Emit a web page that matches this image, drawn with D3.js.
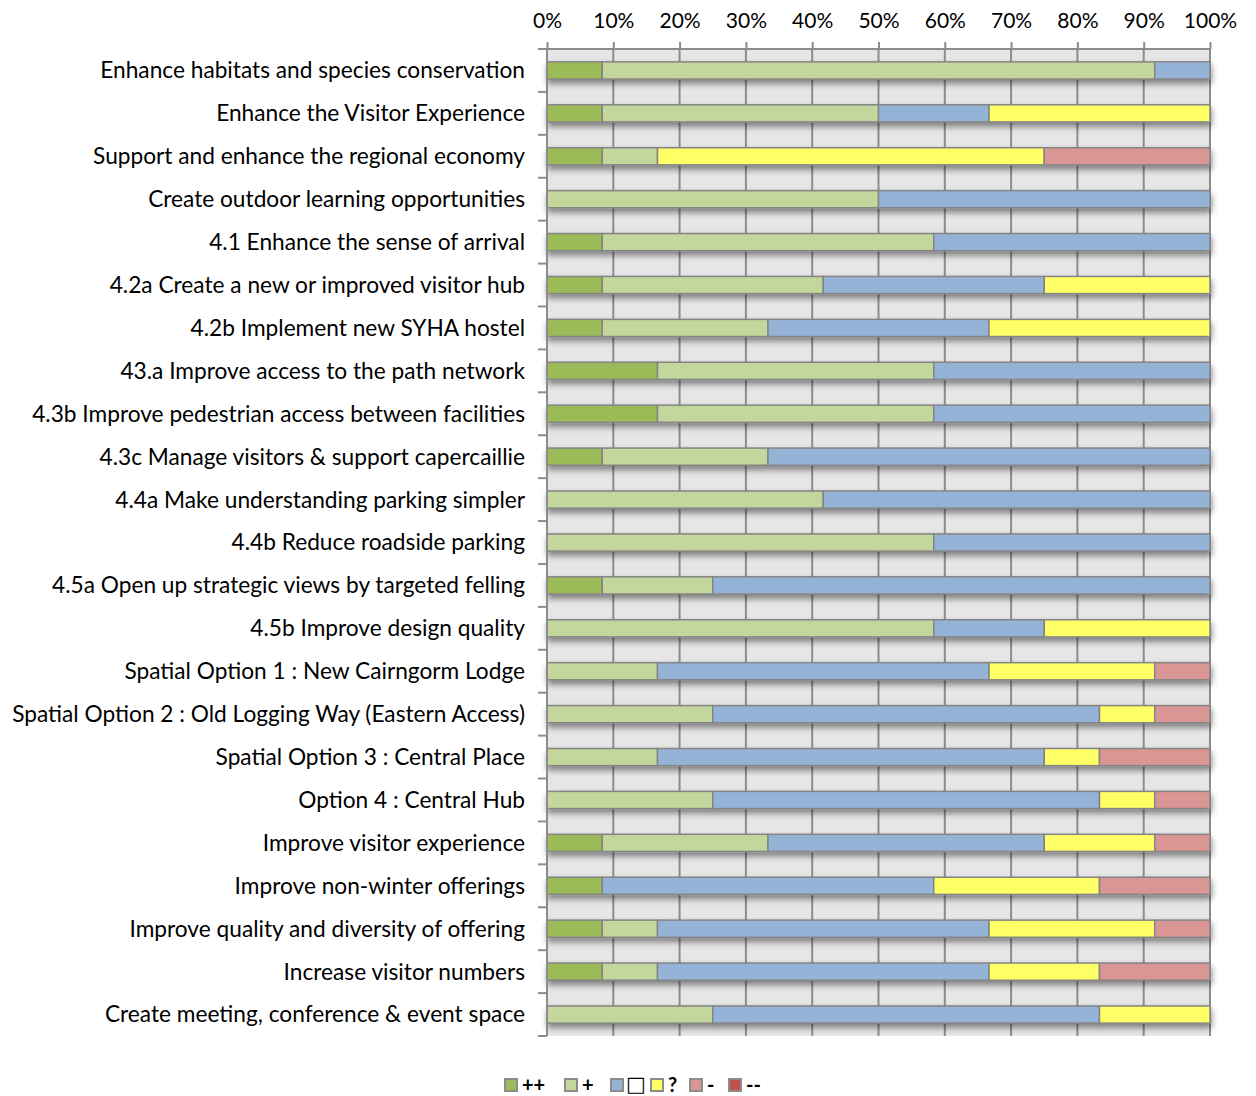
<!DOCTYPE html>
<html>
<head>
<meta charset="utf-8">
<script src="https://cdn.jsdelivr.net/npm/d3@7"></script>
<style>
  html, body { margin: 0; padding: 0; background: #fff; }
  svg { display: block; font-family: "Lato", "Open Sans", sans-serif; }
</style>
</head>
<body>
<svg id="chart" width="1256" height="1096"></svg>
<script>
// Objectives and options assessed (one row each, top to bottom)
const categories = [
  "Enhance habitats and species conservation",
  "Enhance the Visitor Experience",
  "Support and enhance the regional economy",
  "Create outdoor learning opportunities",
  "4.1 Enhance the sense of arrival",
  "4.2a Create a new or improved visitor hub",
  "4.2b Implement new SYHA hostel",
  "43.a Improve access to the path network",
  "4.3b Improve pedestrian access between facilities",
  "4.3c Manage visitors & support capercaillie",
  "4.4a Make understanding parking simpler",
  "4.4b Reduce roadside parking",
  "4.5a Open up strategic views by targeted felling",
  "4.5b Improve design quality",
  "Spatial Option 1 : New Cairngorm Lodge",
  "Spatial Option 2 : Old Logging Way (Eastern Access)",
  "Spatial Option 3 : Central Place",
  "Option 4 : Central Hub",
  "Improve visitor experience",
  "Improve non-winter offerings",
  "Improve quality and diversity of offering",
  "Increase visitor numbers",
  "Create meeting, conference & event space"
];

// Number of assessment criteria scoring each effect, per row
const strongPositive = [1, 1, 1, 0, 1, 1, 1, 2, 2, 1, 0, 0, 1, 0, 0, 0, 0, 0, 1, 1, 1, 1, 0];
const positive       = [10, 5, 1, 6, 6, 4, 3, 5, 5, 3, 5, 7, 2, 7, 2, 3, 2, 3, 3, 0, 1, 1, 3];
const neutral        = [1, 2, 0, 6, 5, 4, 4, 5, 5, 8, 7, 5, 9, 2, 6, 7, 7, 7, 5, 6, 6, 6, 7];
const uncertain      = [0, 4, 7, 0, 0, 3, 4, 0, 0, 0, 0, 0, 0, 3, 3, 1, 1, 1, 2, 3, 3, 2, 2];
const negative       = [0, 0, 3, 0, 0, 0, 0, 0, 0, 0, 0, 0, 0, 0, 1, 1, 2, 1, 1, 2, 1, 2, 0];
const strongNegative = [0, 0, 0, 0, 0, 0, 0, 0, 0, 0, 0, 0, 0, 0, 0, 0, 0, 0, 0, 0, 0, 0, 0];

const seriesKeys   = ["++", "+", "□", "?", "-", "--"];
const seriesValues = [strongPositive, positive, neutral, uncertain, negative, strongNegative];
const seriesColors = ["#9bbb59", "#c3d69b", "#95b3d7", "#ffff66", "#d99694", "#c0504d"];
const tickValues   = [0, 0.1, 0.2, 0.3, 0.4, 0.5, 0.6, 0.7, 0.8, 0.9, 1.0];

const rows = categories.map((name, i) => {
  const r = { name };
  seriesKeys.forEach((k, j) => { r[k] = seriesValues[j][i]; });
  return r;
});

const svg = d3.select("#chart");
const margin = { top: 49, right: 46, bottom: 60, left: 547 };
const plotW = 1210 - margin.left;
const plotH = 1036 - margin.top;

const x = d3.scaleLinear().domain([0, 1]).range([0, plotW]);
const y = d3.scaleBand().domain(categories).range([0, plotH]).paddingInner(0.6).paddingOuter(0.3);
const yOuter = d3.scaleBand().domain(categories).range([0, plotH]);
const color = d3.scaleOrdinal().domain(seriesKeys).range(seriesColors);

const stacked = d3.stack().keys(seriesKeys).offset(d3.stackOffsetExpand)(rows);

const defs = svg.append("defs");
const shadow = defs.append("filter").attr("id", "barShadow")
  .attr("x", "-5%").attr("y", "-50%").attr("width", "110%").attr("height", "250%");
shadow.append("feDropShadow")
  .attr("dx", 1).attr("dy", 4).attr("stdDeviation", 3)
  .attr("flood-color", "#000").attr("flood-opacity", 0.45);

const g = svg.append("g").attr("transform", `translate(${margin.left},${margin.top})`);

// Plot background
g.append("rect").attr("width", plotW).attr("height", plotH).attr("fill", "#e6e6e6");

// Vertical gridlines
g.append("g").selectAll("line").data(tickValues).join("line")
  .attr("x1", d => x(d)).attr("x2", d => x(d))
  .attr("y1", 0).attr("y2", plotH)
  .attr("stroke", "#8c8c8c").attr("stroke-width", 2);

// Stacked bars
g.append("g").attr("filter", "url(#barShadow)")
  .selectAll("g").data(stacked).join("g")
  .attr("fill", d => color(d.key))
  .selectAll("rect").data(d => d.filter(s => s[1] - s[0] > 0)).join("rect")
  .attr("x", d => x(d[0]))
  .attr("y", d => y(d.data.name))
  .attr("width", d => x(d[1]) - x(d[0]))
  .attr("height", y.bandwidth())
  .attr("stroke", "#848484").attr("stroke-width", 1.5);

// Top axis
const xAxis = g.append("g")
  .call(d3.axisTop(x).tickValues(tickValues).tickFormat(d3.format(".0%")).tickSize(7).tickPadding(14));
xAxis.select(".domain").attr("stroke", "#8c8c8c").attr("stroke-width", 2).attr("d", `M0,0H${plotW}`);
xAxis.selectAll(".tick line").attr("stroke", "#8c8c8c").attr("stroke-width", 2);
xAxis.selectAll(".tick text").attr("fill", "#000").style("font-size", "21px").style("font-family", "Lato, sans-serif");

// Left axis: ticks at row boundaries, labels at row centres
const leftLine = g.append("g");
leftLine.append("line").attr("x1", 0).attr("x2", 0).attr("y1", 0).attr("y2", plotH)
  .attr("stroke", "#8c8c8c").attr("stroke-width", 2);
leftLine.selectAll("line.tick").data(categories.concat([null])).join("line")
  .attr("class", "tick")
  .attr("x1", -9).attr("x2", 0)
  .attr("y1", (d, i) => i * yOuter.step()).attr("y2", (d, i) => i * yOuter.step())
  .attr("stroke", "#8c8c8c").attr("stroke-width", 2);

g.append("g").selectAll("text").data(categories).join("text")
  .attr("x", -22)
  .attr("y", d => yOuter(d) + yOuter.bandwidth() / 2)
  .attr("dy", "0.35em")
  .attr("text-anchor", "end")
  .attr("fill", "#000")
  .style("font-size", "22.7px")
  .text(d => d);

// Legend
const legend = svg.append("g").attr("transform", "translate(0,1085)");
const legendX = [505, 565, 611, 651, 690, 729];
const item = legend.selectAll("g").data(seriesKeys).join("g")
  .attr("transform", (d, i) => `translate(${legendX[i]},0)`);
item.append("rect").attr("x", 0).attr("y", -6).attr("width", 12).attr("height", 12)
  .attr("fill", d => color(d)).attr("stroke", "#8c8c8c").attr("stroke-width", 2);
item.append("text").attr("x", d => d === "□" ? 15 : 17).attr("y", d => d === "□" ? -2 : 0).attr("dy", "0.36em")
  .attr("fill", "#000")
  .style("font-family", d => d === "□" ? "DejaVu Sans, sans-serif" : null)
  .style("font-size", d => d === "□" ? "21px" : "20px")
  .style("font-weight", "bold")
  .text(d => d);
</script>
</body>
</html>
